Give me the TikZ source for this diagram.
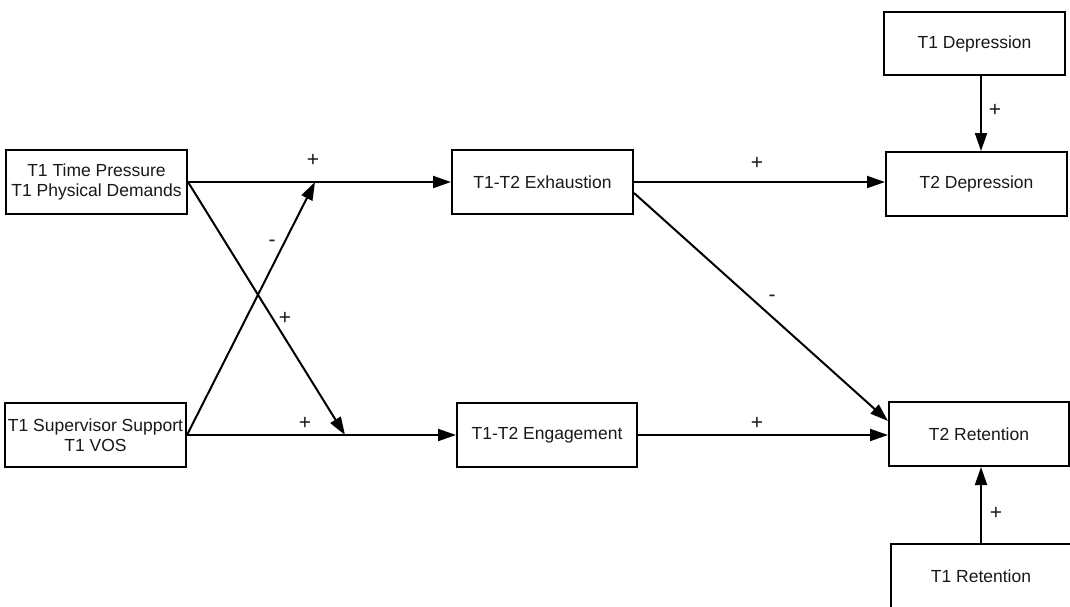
\documentclass[tikz,border=0pt]{standalone}
\usepackage{fontspec}
\setmainfont{Liberation Sans}
\usetikzlibrary{arrows.meta}
\begin{document}
\begin{tikzpicture}[x=1pt,y=-1pt,
  box/.style={draw=black,line width=2pt,rectangle,minimum width=181pt,minimum height=64pt,inner sep=2pt,align=center,font=\fontsize{17.5}{20}\selectfont,text=black!90},
  arr/.style={line width=2pt,-{Triangle[length=18pt,width=12pt]}},
  lbl/.style={font=\fontsize{21}{24}\selectfont,text=black!90,inner sep=0pt}]
\clip (0,0) rectangle (1070,606);
\fill[white] (0,0) rectangle (1070,606);
% boxes
\node[box] (A) at (96.5,182) {T1 Time Pressure\\T1 Physical Demands};
\node[box] (B) at (95.5,435) {T1 Supervisor Support\\T1 VOS};
\node[box] (Exh) at (542.5,182) {T1-T2 Exhaustion};
\node[box,minimum width=180pt] (Eng) at (547,435) {T1-T2 Engagement};
\node[box,minimum height=63pt] (T1D) at (974.5,43.5) {T1 Depression};
\node[box] (T2D) at (976.5,184) {T2 Depression};
\node[box,minimum width=180pt] (T2R) at (979,434) {T2 Retention};
\node[box,minimum width=180pt] (T1R) at (981,576) {T1 Retention};
% points on lines
\coordinate (p1) at (315,182);
\coordinate (p2) at (345,435);
% connectors
\draw[arr] (A.east) -- (A.east -| Exh.west);
\draw[arr] (B.east) -- (B.east -| Eng.west);
\draw[arr] (A.east) -- (p2);
\draw[arr] (B.east) -- (p1);
\draw[arr] (Exh.east) -- (Exh.east -| T2D.west);
\draw[arr] ([yshift=-11pt]Exh.east) -- ([yshift=13pt]T2R.west);
\draw[arr] (Eng.east) -- (Eng.east -| T2R.west);
\draw[arr] ([xshift=6.5pt]T1D.south) -- ([xshift=6.5pt]T1D.south |- T2D.north);
\draw[arr] (T1R.north) -- (T1R.north |- T2R.south);
% labels
\node[lbl] (l1) at (313,160) {+};
\node[lbl] (l2) at (272,243) {-};
\node[lbl] (l3) at (285,318) {+};
\node[lbl] (l4) at (305,423) {+};
\node[lbl] (l5) at (757,163) {+};
\node[lbl] (l6) at (772,298) {-};
\node[lbl] (l7) at (757,423) {+};
\node[lbl] (l8) at (995,110) {+};
\node[lbl] (l9) at (996,513) {+};
\end{tikzpicture}
\end{document}
